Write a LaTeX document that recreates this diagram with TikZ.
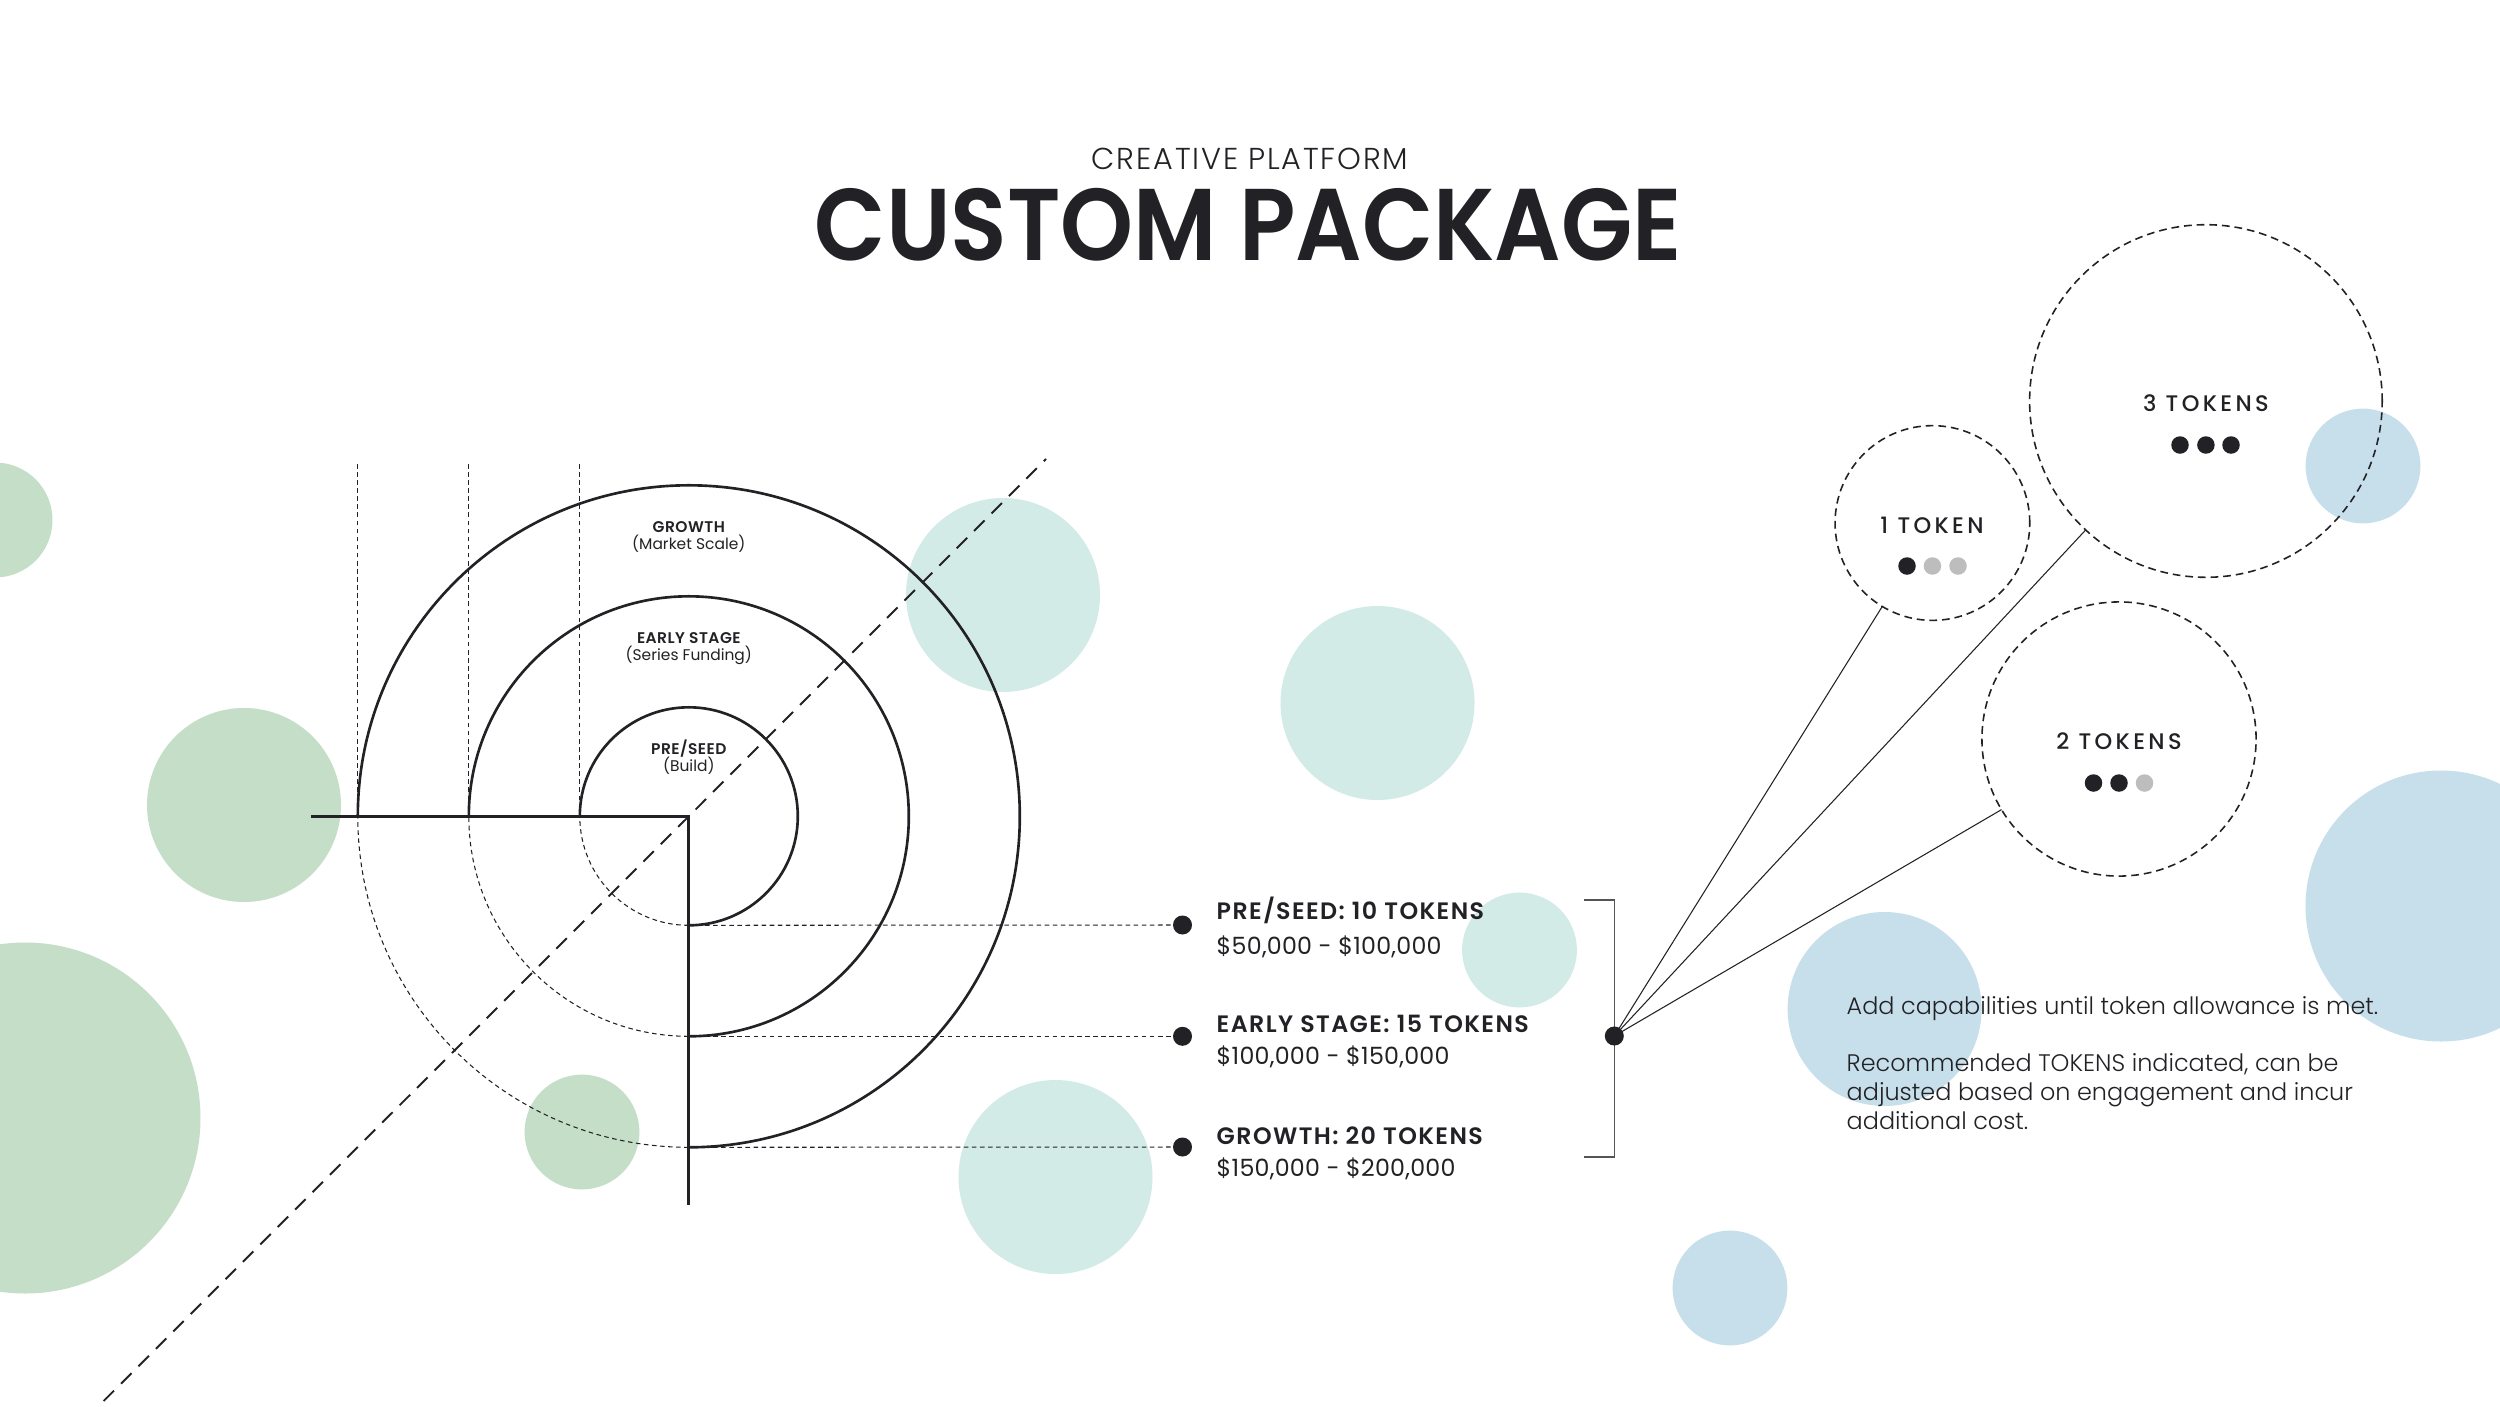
\documentclass[tikz,border=0pt]{standalone}
\usepackage{fontspec}
\usetikzlibrary{calc}
\setmainfont{Poppins}
\newfontfamily\plight{Poppins Light}
\newfontfamily\pmed{Poppins Medium}
\newfontfamily\psemi{Poppins SemiBold}
\definecolor{ink}{HTML}{222226}
\definecolor{bgreen}{HTML}{C5DEC8}
\definecolor{bteal}{HTML}{D3EBE7}
\definecolor{bblue}{HTML}{C6DFEA}
\definecolor{tgray}{HTML}{BDBDBD}
\definecolor{brk}{HTML}{555555}
\tikzset{
  spiral/.style={draw=ink, line width=0.75pt},
  guide/.style={draw=ink, line width=0.3pt, dash pattern=on 1.3pt off 1pt},
  diag/.style={draw=ink, line width=0.55pt, dash pattern=on 4.2pt off 2.8pt},
  tokcirc/.style={circle, draw=ink, line width=0.45pt, dash pattern=on 2.2pt off 1.4pt, inner sep=0pt, outer sep=0pt},
  dotnode/.style={circle, fill=ink, inner sep=0pt, outer sep=0pt, minimum size=0.19cm},
  tdot/.style={circle, fill=#1, inner sep=0pt, outer sep=0pt, minimum size=0.175cm},
  hubline/.style={draw=ink, line width=0.3pt},
  bracketline/.style={draw=brk, line width=0.4pt},
  stagelbl/.style={anchor=base, inner sep=0pt, text=ink, font=\psemi\fontsize{4.4}{5}\selectfont\addfontfeature{LetterSpace=3}},
  stagesub/.style={anchor=base, inner sep=0pt, text=ink, font=\fontsize{4.4}{5}\selectfont},
  toklbl/.style={anchor=base west, inner sep=0pt, text=ink, font=\psemi\fontsize{6.75}{8}\selectfont\addfontfeature{LetterSpace=6}},
  pricelbl/.style={anchor=base west, inner sep=0pt, text=ink, font=\fontsize{6.75}{8}\selectfont\addfontfeature{LetterSpace=1}},
  circlbl/.style={anchor=base, inner sep=0pt, text=ink, font=\pmed\fontsize{6.4}{7}\selectfont\addfontfeature{LetterSpace=15}},
  desc/.style={anchor=base west, inner sep=0pt, text=ink, font=\plight\fontsize{6.8}{8}\selectfont},
}
\begin{document}
\begin{tikzpicture}[x=0.01cm,y=-0.01cm]
\useasboundingbox[fill=white] (0,0) rectangle (2500,1406);

% background circles
\fill[bgreen] (-5,520) circle (57.5);
\fill[bgreen] (244,805) circle (97);
\fill[bgreen] (25,1118) circle (175.5);
\fill[bgreen] (582,1132) circle (57.4);
\fill[bteal] (1003,595) circle (97);
\fill[bteal] (1377.5,703) circle (97);
\fill[bteal] (1519.5,950) circle (57.4);
\fill[bteal] (1055.5,1177) circle (97);
\fill[bblue] (2363,466) circle (57.4);
\fill[bblue] (1884.6,1009) circle (97);
\fill[bblue] (2441,906) circle (135.5);
\fill[bblue] (1730,1288) circle (57.4);

% title
\node[anchor=base, inner sep=0pt, text=ink, font=\plight\fontsize{8.6}{10}\selectfont\addfontfeature{LetterSpace=6}] (sub) at (1250,169) {CREATIVE PLATFORM};
\node[anchor=base, inner sep=0pt, text=ink, font=\psemi\fontsize{29}{32}\selectfont\addfontfeature{FakeStretch=0.91}] (title) at (1248.5,260) {CUSTOM PACKAGE};

% spiral
\coordinate (C) at (688.8,816.3);
\draw[diag] (103.6,1401) -- (C) -- (1046,459);
\foreach \r/\nm in {109/i,220/ii,331/iii}{
  \draw[spiral] ($(C)+(-\r,0)$) arc[start angle=180, end angle=450, radius=\r];
  \draw[guide] ($(C)+(0,\r)$) arc[start angle=90, end angle=180, radius=\r];
  \draw[guide] ($(C)+(-\r,0)$) -- ($(C)+(-\r,-353)$);
  \coordinate (b\nm) at ($(C)+(0,\r)$);
}
\draw[spiral] (311,816.3) -- (C) -- (688.8,1205);

\node[stagelbl] (g1) at (688.8,532.3) {GROWTH};
\node[stagesub] (g2) at (688.8,549.5) {(Market Scale)};
\node[stagelbl] (e1) at (688.8,643.3) {EARLY STAGE};
\node[stagesub] (e2) at (688.8,660.7) {(Series Funding)};
\node[stagelbl] (p1) at (688.8,754) {PRE/SEED};
\node[stagesub] (p2) at (688.8,771.4) {(Build)};

% stage dots and labels
\node[dotnode] (d1) at (1182.5,925) {};
\node[dotnode] (d2) at (1182.5,1036.3) {};
\node[dotnode] (d3) at (1182.5,1147) {};
\draw[guide] (bi) -- (d1);
\draw[guide] (bii) -- (d2);
\draw[guide] (biii) -- (d3);

\node[toklbl] (l1) at (1216,919.3) {PRE/SEED: 10 TOKENS};
\node[pricelbl] (q1) at (1216,954) {\$50,000 - \$100,000};
\node[toklbl] (l2) at (1216,1032.7) {EARLY STAGE: 15 TOKENS};
\node[pricelbl] (q2) at (1216,1064.3) {\$100,000 - \$150,000};
\node[toklbl] (l3) at (1216,1144) {GROWTH: 20 TOKENS};
\node[pricelbl] (q3) at (1216,1176.7) {\$150,000 - \$200,000};

% bracket and hub
\coordinate (bt) at (1584,900);
\coordinate (bb) at (1584,1157);
\draw[bracketline] (bt) -- (1614.3,900) -- (1614.3,1157) -- (bb);
\node[dotnode] (hub) at (1614.3,1036) {};

% token circles
\node[tokcirc, minimum size=1.946cm] (c1) at (1932.4,523) {};
\node[tokcirc, minimum size=3.524cm] (c3) at (2205.9,401) {};
\node[tokcirc, minimum size=2.74cm] (c2) at (2119,739) {};

\draw[hubline] (hub.center) -- (c1.-121.3);
\draw[hubline] (hub.center) -- (c3.-133.4);
\draw[hubline] (hub.center) -- (c2.-149.2);

\node[circlbl] (t3) at (2205.9,411) {3 TOKENS};
\node[tdot=ink] (t3a) at (2180,445) {};
\node[tdot=ink] (t3b) at (2205.9,445) {};
\node[tdot=ink] (t3c) at (2231,445) {};

\node[circlbl] (t1) at (1932,533.5) {1 TOKEN};
\node[tdot=ink] (t1a) at (1907,566) {};
\node[tdot=tgray] (t1b) at (1932.4,566) {};
\node[tdot=tgray] (t1c) at (1958,566) {};

\node[circlbl] (t2) at (2119,749) {2 TOKENS};
\node[tdot=ink] (t2a) at (2093.5,783) {};
\node[tdot=ink] (t2b) at (2119,783) {};
\node[tdot=tgray] (t2c) at (2144.5,783) {};

% description
\node[desc] (x1) at (1846,1014) {Add capabilities until token allowance is met.};
\node[desc] (x2) at (1846,1071) {Recommended TOKENS indicated, can be};
\node[desc] (x3) at (1846,1100) {adjusted based on engagement and incur};
\node[desc] (x4) at (1846,1129) {additional cost.};
\end{tikzpicture}
\end{document}
